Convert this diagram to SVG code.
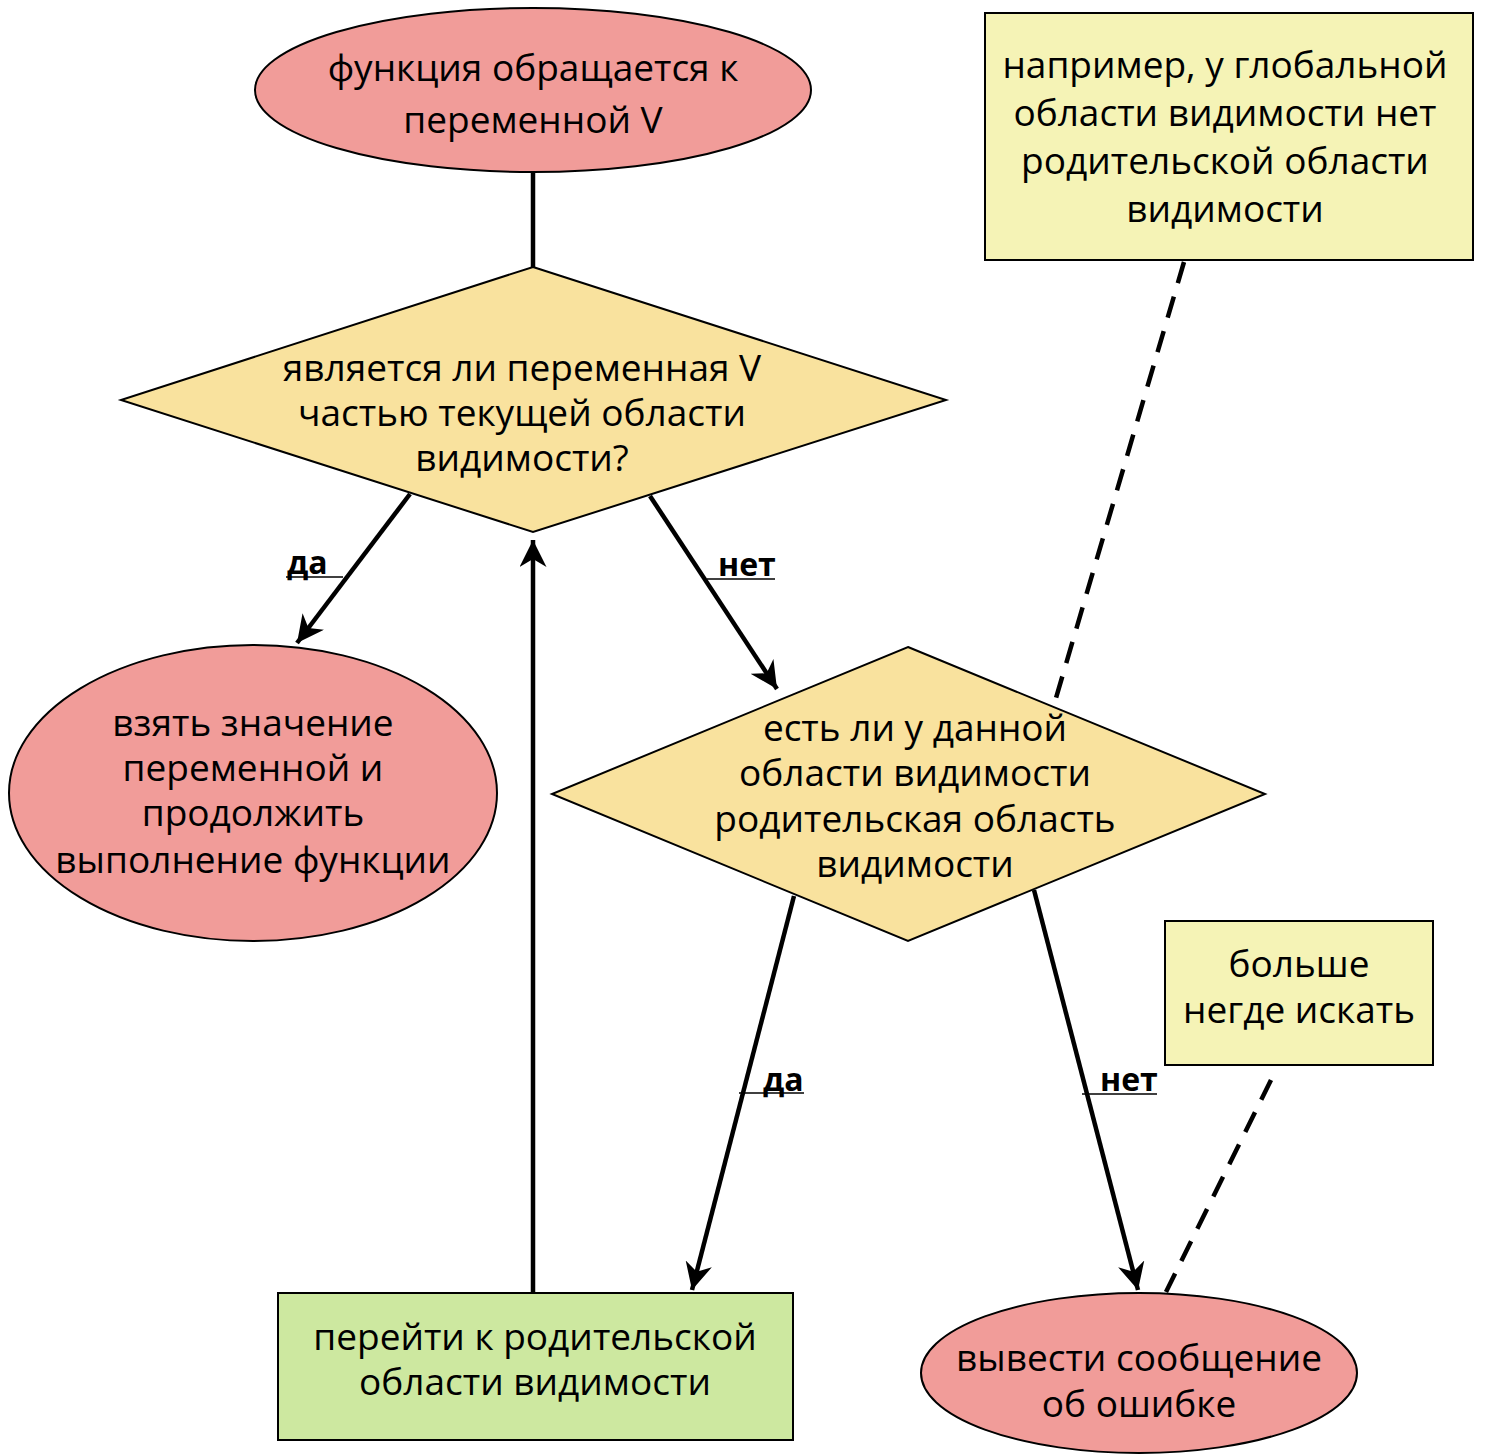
<svg xmlns="http://www.w3.org/2000/svg" width="1486" height="1454" viewBox="0 0 1486 1454">
<style>
.t{font-family:"Open Sans","DejaVu Sans",sans-serif;font-size:37px;fill:#000;text-anchor:middle}
.l{font-family:"Open Sans","DejaVu Sans",sans-serif;font-size:32px;font-weight:bold;fill:#000}
.red{fill:#F19C99;stroke:#000;stroke-width:2}
.yel{fill:#F9E29E;stroke:#000;stroke-width:2}
.note{fill:#F5F3B6;stroke:#000;stroke-width:2}
.grn{fill:#CDE8A0;stroke:#000;stroke-width:2}
.c{fill:none;stroke:#000;stroke-width:4.5}
.d{fill:none;stroke:#000;stroke-width:4.5;stroke-dasharray:22 14}
.u{stroke:#000;stroke-width:1.5}
</style>
<defs>
<marker id="ah" viewBox="0 0 10 10" refX="10" refY="5" markerWidth="6" markerHeight="6" markerUnits="strokeWidth" orient="auto">
<path d="M0,0 L10,5 L0,10 L3,5 Z" fill="#000"/>
</marker>
</defs>
<rect width="1486" height="1454" fill="#fff"/>
<g id="connectors">
<line class="c" x1="533" y1="172" x2="533" y2="267"/>
<line class="c" x1="410" y1="494" x2="297" y2="643" marker-end="url(#ah)"/>
<line class="c" x1="650" y1="496" x2="777" y2="689" marker-end="url(#ah)"/>
<line class="c" x1="794" y1="896" x2="692" y2="1290" marker-end="url(#ah)"/>
<line class="c" x1="1034" y1="890" x2="1138" y2="1290" marker-end="url(#ah)"/>
<line class="c" x1="533" y1="1293" x2="533" y2="540" marker-end="url(#ah)"/>
<line class="d" x1="1184" y1="262" x2="1056" y2="698"/>
<line class="d" x1="1271" y1="1080" x2="1166" y2="1292"/>
<g id="labels">
<text class="l" x="287" y="574">да</text><line class="u" x1="286" y1="577" x2="343" y2="577"/>
<text class="l" x="718" y="576">нет</text><line class="u" x1="707" y1="579" x2="775" y2="579"/>
<text class="l" x="763" y="1091">да</text><line class="u" x1="739" y1="1093" x2="804" y2="1093"/>
<text class="l" x="1100" y="1091">нет</text><line class="u" x1="1082" y1="1094" x2="1157" y2="1094"/>
</g>
</g>
<g id="start">
<ellipse class="red" cx="533" cy="90" rx="278" ry="82"/>
<text class="t" x="533" y="81">функция обращается к</text>
<text class="t" x="533" y="133">переменной V</text>
</g>
<g id="check-current">
<polygon class="yel" points="533,267 946,400 533,532 121,400"/>
<text class="t" x="522" y="381">является ли переменная V</text>
<text class="t" x="522" y="426">частью текущей области</text>
<text class="t" x="522" y="471">видимости?</text>
</g>
<g id="take-value">
<ellipse class="red" cx="253" cy="793" rx="244" ry="148"/>
<text class="t" x="253" y="736">взять значение</text>
<text class="t" x="253" y="781">переменной и</text>
<text class="t" x="253" y="826">продолжить</text>
<text class="t" x="253" y="873">выполнение функции</text>
</g>
<g id="check-parent">
<polygon class="yel" points="908,647 1265,794 908,941 552,794"/>
<text class="t" x="915" y="741">есть ли у данной</text>
<text class="t" x="915" y="786">области видимости</text>
<text class="t" x="915" y="832">родительская область</text>
<text class="t" x="915" y="877">видимости</text>
</g>
<g id="go-parent">
<rect class="grn" x="278" y="1293" width="515" height="147"/>
<text class="t" x="535" y="1350">перейти к родительской</text>
<text class="t" x="535" y="1395">области видимости</text>
</g>
<g id="error">
<ellipse class="red" cx="1139" cy="1373" rx="218" ry="80"/>
<text class="t" x="1139" y="1371">вывести сообщение</text>
<text class="t" x="1139" y="1417">об ошибке</text>
</g>
<g id="note-global">
<rect class="note" x="985" y="13" width="488" height="247"/>
<text class="t" x="1225" y="78">например, у глобальной</text>
<text class="t" x="1225" y="126">области видимости нет</text>
<text class="t" x="1225" y="174">родительской области</text>
<text class="t" x="1225" y="222">видимости</text>
</g>
<g id="note-nowhere">
<rect class="note" x="1165" y="921" width="268" height="144"/>
<text class="t" x="1299" y="977">больше</text>
<text class="t" x="1299" y="1023">негде искать</text>
</g>
</svg>
